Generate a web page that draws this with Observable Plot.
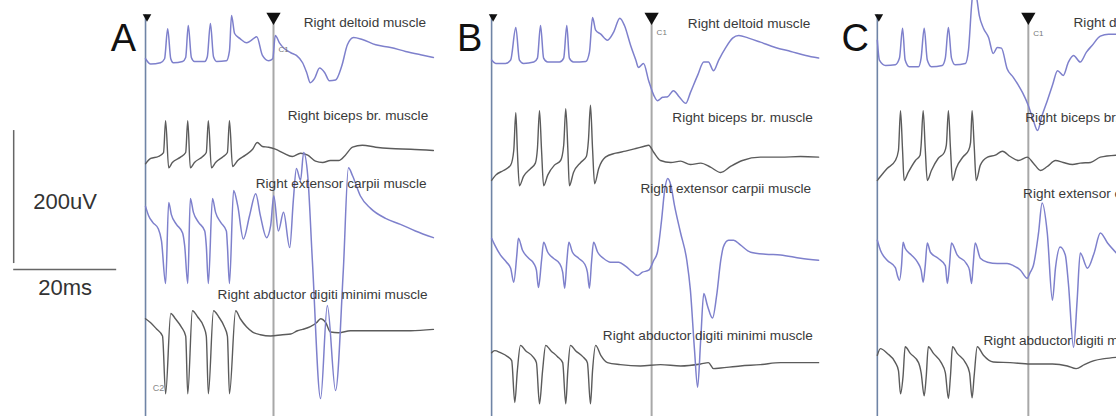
<!DOCTYPE html>
<html>
<head>
<meta charset="utf-8">
<script src="https://cdn.jsdelivr.net/npm/d3@7"></script>
<script src="https://cdn.jsdelivr.net/npm/@observablehq/plot@0.6"></script>
<style>
  html, body { margin: 0; padding: 0; background: #fff; }
  #chart svg { display: block; }
</style>
</head>
<body>
<div id="chart"></div>
<script>
// ---------- categories ----------
const panels = ["A", "B", "C"];
const muscles = [
  "Right deltoid muscle",
  "Right biceps br. muscle",
  "Right extensor carpii muscle",
  "Right abductor digiti minimi muscle"
];

// ---------- timing (ms) ----------
// start of each sweep on the shared time axis, and stimulus C1 time after sweep start
const panelStart = [0, 67.2, 142.1];
const c1Time = [24.85, 31.07, 29.32];

// vertical offset (µV) of each channel's baseline in each panel
const channelOffset = [
  [532, 382, 287, 129],
  [531, 355, 235, 84],
  [531, 355, 235, 84]
];

// ---------- traces: [time after sweep start (ms), amplitude (µV)] ----------
const A_deltoid = [[0,6],[1.0,-2],[2.9,0],[3.7,6],[4.3,51],[4.9,6],[5.4,0],[7.2,2],[7.8,8],[8.3,56],[8.9,8],[9.5,2],[11.5,2],[12.0,9],[12.6,59],[13.2,9],[13.8,2],[15.7,3],[16.3,18],[16.7,71],[17.3,44],[18.4,36],[19.6,30],[20.4,33],[21.6,39],[22.7,11],[23.9,3],[24.7,6],[25.2,41],[26.0,30],[27.0,21],[28.2,15],[29.3,11],[30.5,0],[31.3,-15],[32.0,-30],[32.8,-24],[33.8,-8],[34.8,-15],[35.7,-27],[36.9,-26],[38.1,-5],[39.2,27],[40.4,38],[42.1,35],[44.7,27],[47.6,23],[50.5,17],[53.4,12],[55.9,8]];
const A_biceps = [[0,-2],[1.0,6],[2.5,9],[3.5,15],[3.9,63],[4.5,-8],[5.2,0],[6.8,8],[7.8,15],[8.2,63],[8.7,-8],[9.5,0],[11.1,9],[11.8,15],[12.2,63],[12.8,-8],[13.6,0],[15.1,9],[15.9,15],[16.3,63],[16.9,-6],[17.9,3],[19.4,11],[20.8,20],[21.7,30],[22.7,24],[23.9,23],[25.2,20],[26.8,14],[28.5,9],[30.1,14],[31.5,11],[33.0,2],[34.4,0],[35.9,3],[37.5,3],[38.8,11],[40.2,23],[42.1,26],[44.7,23],[47.6,21],[51.5,20],[55.9,18]];
const A_extensor = [[0,29],[0.6,15],[1.4,5],[2.5,-5],[3.1,-23],[3.9,-87],[4.5,35],[5.0,17],[6.0,2],[7.2,-11],[7.6,-30],[8.2,-87],[8.7,41],[9.3,20],[10.3,5],[11.5,-8],[11.8,-30],[12.2,-87],[13.0,41],[13.6,20],[14.6,5],[15.7,-8],[15.9,-30],[16.3,-87],[17.1,53],[17.9,30],[19.0,-20],[20.2,15],[21.4,48],[22.3,15],[23.5,-18],[24.3,0],[24.9,45],[25.8,-8],[26.8,20],[28.0,-33],[28.7,38],[29.3,86],[30.1,68],[30.7,110],[31.5,75],[32.4,-53],[34.0,-260],[35.3,-120],[36.9,-248],[38.4,-68],[39.4,87],[40.2,75],[41.7,45],[43.7,26],[46.6,11],[49.5,2],[52.4,-8],[55.9,-18]];
const A_abductor = [[0,18],[1.0,12],[2.1,3],[3.3,-8],[3.9,-95],[4.9,26],[5.8,18],[7.0,5],[7.8,-8],[8.2,-95],[9.1,30],[10.1,21],[11.3,6],[11.8,-8],[12.2,-95],[13.2,30],[14.2,21],[15.3,6],[15.9,-8],[16.3,-95],[17.5,30],[18.4,18],[19.6,6],[20.8,-2],[22.3,-6],[24.3,-8],[26.6,-6],[28.2,-5],[29.5,0],[30.5,2],[32.0,6],[33.2,12],[34.0,18],[35.0,12],[35.9,-2],[37.5,-3],[39.8,0],[43.7,0],[47.6,0],[51.5,0],[55.9,2]];

const B_deltoid = [[0,5],[0.8,0],[2.7,0],[3.7,5],[4.7,54],[5.4,5],[6.2,0],[8.2,2],[8.9,8],[9.5,57],[10.1,8],[10.9,2],[13.2,2],[14.0,8],[14.6,57],[15.1,8],[15.9,2],[18.3,3],[19.0,17],[19.6,69],[20.2,50],[21.2,44],[22.5,35],[23.7,47],[24.9,68],[25.8,57],[27.0,27],[28.0,5],[28.5,-6],[29.5,0],[30.5,-26],[31.5,-48],[32.2,-56],[33.2,-51],[34.2,-50],[35.3,-41],[36.5,-51],[37.7,-60],[38.6,-44],[40.0,-18],[41.2,2],[42.1,2],[43.1,-11],[44.1,5],[45.4,23],[46.8,38],[48.0,42],[49.9,38],[52.2,32],[55.1,24],[58.1,18],[61.0,12],[63.5,8]];
const B_biceps = [[0,0],[0.8,8],[2.3,15],[3.7,23],[4.3,45],[4.7,102],[5.0,45],[5.4,-8],[6.2,6],[7.6,18],[8.5,26],[8.9,48],[9.3,105],[9.7,45],[10.1,-8],[10.9,8],[12.2,23],[13.4,30],[14.0,53],[14.4,108],[14.8,48],[15.1,-8],[15.9,12],[17.3,27],[18.4,36],[18.8,60],[19.2,113],[19.6,48],[20.0,-5],[20.8,18],[22.1,35],[24.1,41],[26.0,44],[28.0,48],[29.5,51],[30.5,53],[31.5,42],[32.8,30],[34.8,27],[36.7,29],[38.6,24],[40.6,26],[42.5,20],[44.5,12],[46.4,21],[48.7,30],[52.2,35],[56.1,35],[60.0,36],[63.5,35]];
const B_extensor = [[0,33],[0.6,23],[1.7,8],[2.9,-3],[3.7,-12],[4.3,-33],[4.9,8],[5.2,33],[6.0,15],[7.2,3],[8.2,-5],[8.7,-15],[9.1,-41],[9.7,0],[10.1,27],[10.9,12],[12.0,3],[13.2,-5],[13.8,-18],[14.2,-42],[14.6,-3],[15.0,27],[15.7,12],[16.9,3],[18.1,-6],[18.6,-18],[19.0,-42],[19.4,-3],[19.8,27],[20.6,12],[21.7,3],[23.1,-3],[24.7,-3],[26.0,-9],[27.4,-18],[28.3,-23],[29.3,-18],[30.5,-15],[31.5,0],[32.2,12],[33.0,60],[33.6,105],[34.2,123],[34.8,113],[35.5,83],[36.7,41],[37.9,0],[38.6,-45],[39.4,-135],[40.0,-191],[40.6,-120],[41.2,-50],[41.9,-68],[42.9,-87],[43.7,-53],[44.5,0],[45.0,20],[46.0,30],[47.0,30],[48.3,23],[50.3,12],[53.2,9],[56.1,8],[60.0,3],[63.5,0]];
const B_abductor = [[0,12],[0.6,15],[1.7,12],[3.1,6],[3.9,0],[4.5,-63],[5.0,-15],[5.6,23],[6.6,15],[8.0,6],[8.7,-3],[9.3,-65],[9.9,-15],[10.5,23],[11.5,15],[12.8,6],[13.8,-3],[14.4,-65],[14.8,-15],[15.3,23],[16.3,15],[17.7,6],[18.6,-3],[19.2,-65],[19.6,-15],[20.2,23],[21.2,8],[22.5,-3],[25.0,-6],[28.9,-8],[32.8,-6],[36.7,-8],[40.6,-5],[42.1,-3],[43.1,-12],[44.5,-11],[48.3,-8],[52.2,-6],[56.1,-3],[60.0,-3],[63.5,-3]];

const C_deltoid = [[0,35],[0.4,5],[1.6,-3],[3.5,-2],[4.3,8],[4.9,53],[5.4,5],[6.2,-5],[8.0,-5],[8.5,8],[9.1,53],[9.7,5],[10.5,-5],[12.6,-3],[13.2,8],[13.8,54],[14.4,8],[15.1,-2],[17.1,0],[17.7,20],[18.3,87],[18.6,110],[19.2,102],[19.8,72],[20.6,53],[21.6,39],[22.5,15],[23.3,24],[24.1,23],[25.2,-8],[26.4,-21],[27.4,-33],[28.2,-44],[29.3,-63],[30.3,-86],[31.1,-101],[32.0,-78],[33.0,-56],[34.0,-33],[35.0,-11],[36.1,-18],[37.1,2],[38.1,12],[39.4,2],[40.6,17],[41.7,27],[43.3,41],[44.9,44],[46.4,44]];
const C_biceps = [[0,0],[0.6,6],[1.9,18],[3.5,30],[4.1,45],[4.5,105],[4.9,45],[5.2,0],[6.0,12],[7.4,30],[8.3,38],[8.5,53],[8.9,105],[9.3,48],[9.7,0],[10.5,15],[11.8,33],[13.0,42],[13.4,53],[13.8,105],[14.2,48],[14.6,0],[15.3,18],[16.7,36],[17.7,45],[18.1,57],[18.4,105],[18.8,53],[19.2,0],[20.0,23],[21.4,35],[22.9,38],[24.3,44],[25.8,36],[27.4,30],[29.1,35],[30.3,26],[31.7,15],[33.0,21],[34.6,30],[36.1,27],[37.9,24],[39.4,26],[41.4,27],[43.3,35],[46.4,38]];
const C_extensor = [[0,30],[0.6,15],[1.9,0],[3.5,-11],[3.9,-23],[4.3,-30],[4.7,-8],[5.0,27],[5.4,18],[6.6,8],[7.8,-3],[8.5,-15],[8.9,-33],[9.3,-8],[9.7,26],[10.3,12],[11.8,3],[13.2,-8],[13.6,-35],[14.0,-8],[14.4,26],[15.5,8],[17.3,-5],[17.9,-15],[18.3,-35],[18.6,-8],[19.0,26],[20.0,3],[21.4,-3],[23.3,-5],[25.2,-5],[26.4,-8],[27.8,-15],[29.1,-27],[29.7,-18],[30.3,-8],[31.3,41],[32.0,86],[33.0,41],[34.0,-60],[34.6,-11],[35.5,20],[36.5,8],[37.1,-35],[38.1,-131],[38.8,-60],[39.4,11],[40.8,-12],[42.1,11],[43.3,41],[44.7,26],[46.4,11]];
const C_abductor = [[0,8],[0.6,18],[1.9,11],[3.5,-3],[4.1,-15],[4.5,-50],[5.0,-23],[5.4,21],[6.4,11],[8.0,-3],[8.5,-18],[9.1,-53],[9.5,-23],[9.9,21],[10.9,11],[12.4,-3],[13.2,-18],[13.8,-57],[14.2,-23],[14.6,21],[15.5,11],[17.1,-3],[17.9,-18],[18.4,-56],[18.8,-23],[19.4,21],[20.6,8],[22.5,-2],[25.8,-3],[29.7,-5],[34.0,-5],[36.9,-8],[38.6,-12],[40.2,-6],[42.1,0],[44.1,3],[46.4,5]];

// ---------- annotations ----------
// label anchor per panel & muscle: [time after sweep start (ms), level (µV)]
const labelAnchor = [
  [[30.7, 592.5], [27.6, 452.6], [21.4, 350.4], [14.0, 183.5]],
  [[38.1, 591.0], [35.1, 449.6], [28.9, 342.9], [21.6, 121.8]],
  [[38.1, 592.5], [28.7, 449.6], [28.3, 335.3], [20.6, 114.3]]
];
const c1LabelLevel = [552, 577, 576];
const scaleBar = { ms: 20, uV: 200, t0: -25.6, y0: 221, yBottom: 230 };

// ---------- assemble ----------
const traces = [
  [A_deltoid, A_biceps, A_extensor, A_abductor],
  [B_deltoid, B_biceps, B_extensor, B_abductor],
  [C_deltoid, C_biceps, C_extensor, C_abductor]
];
const rows = [];
traces.forEach((panelTraces, p) => {
  panelTraces.forEach((tr, c) => {
    tr.forEach(([t, v]) => rows.push({
      panel: panels[p], muscle: muscles[c], ch: c,
      key: panels[p] + c,
      x: panelStart[p] + t,
      y: channelOffset[p][c] + v
    }));
  });
});
const blueRows = rows.filter(d => d.ch === 0 || d.ch === 2);
const grayRows = rows.filter(d => d.ch === 1 || d.ch === 3);

const panelRows = panels.map((name, p) => ({
  name, start: panelStart[p], c1: panelStart[p] + c1Time[p], c1Level: c1LabelLevel[p]
}));
const labelRows = [];
panels.forEach((name, p) => muscles.forEach((m, c) => labelRows.push({
  text: m, x: panelStart[p] + labelAnchor[p][c][0], y: labelAnchor[p][c][1]
})));

const BLUE = "#7e80cc";
const GRAY = "#5b5b5b";
const font = "'Liberation Sans', Arial, Helvetica, sans-serif";

const chart = Plot.plot({
  width: 1116,
  height: 416,
  margin: 0,
  x: { domain: [-28.16, 188.54], axis: null },
  y: { domain: [0, 625.6], axis: null },
  style: { fontFamily: font, background: "#fff" },
  marks: [
    // sweep start and stimulus lines
    Plot.ruleX(panelRows, { x: "start", y1: 0, y2: 604, stroke: "#6f84a6", strokeWidth: 1.6 }),
    Plot.ruleX(panelRows, { x: "c1", y1: 0, y2: 604, stroke: "#a8a8a8", strokeWidth: 2 }),
    // traces
    Plot.line(grayRows, { x: "x", y: "y", z: "key", curve: "monotone-x", stroke: GRAY, strokeWidth: 1.4, strokeLinejoin: "round", clip: true }),
    Plot.line(blueRows, { x: "x", y: "y", z: "key", curve: "monotone-x", stroke: BLUE, strokeWidth: 1.5, strokeLinejoin: "round", clip: true }),
    // markers
    Plot.dot(panelRows, { x: "c1", y: 601, symbol: "triangle", rotate: 180, r: 5.3, fill: "#111", stroke: "none" }),
    Plot.dot(panelRows, { x: "start", y: 601, dx: 1.5, symbol: "triangle", rotate: 180, r: 3.2, fill: "#111", stroke: "none" }),
    Plot.text(panelRows, { x: "c1", y: "c1Level", text: () => "C1", dx: 5, textAnchor: "start", fontSize: 8, fill: "#777" }),
    Plot.text([panelRows[0]], { x: d => d.start + 1.4, y: 42, text: () => "C2", textAnchor: "start", fontSize: 9, fill: "#888" }),
    // panel letters
    Plot.text(panelRows, { x: "start", y: 568, text: "name", dx: -22, textAnchor: "middle", fontSize: 38, fill: "#111" }),
    // muscle labels
    Plot.text(labelRows, { x: "x", y: "y", text: "text", textAnchor: "start", fontSize: 13.6, fill: "#3a3a3a" }),
    // scale bar
    Plot.ruleX([scaleBar], { x: "t0", y1: "yBottom", y2: d => d.yBottom + d.uV, stroke: "#666", strokeWidth: 1.5 }),
    Plot.ruleY([scaleBar], { y: "y0", x1: "t0", x2: d => d.t0 + d.ms, stroke: "#666", strokeWidth: 1.5 }),
    Plot.text([scaleBar], { x: d => d.t0 + d.ms / 2, y: d => d.yBottom + d.uV / 2 - 8, text: d => d.uV + "uV", fontSize: 22, fill: "#333" }),
    Plot.text([scaleBar], { x: d => d.t0 + d.ms / 2, y: d => d.y0 - 27, text: d => d.ms + "ms", fontSize: 22, fill: "#333" })
  ]
});
document.getElementById("chart").append(chart);
</script>
</body>
</html>
